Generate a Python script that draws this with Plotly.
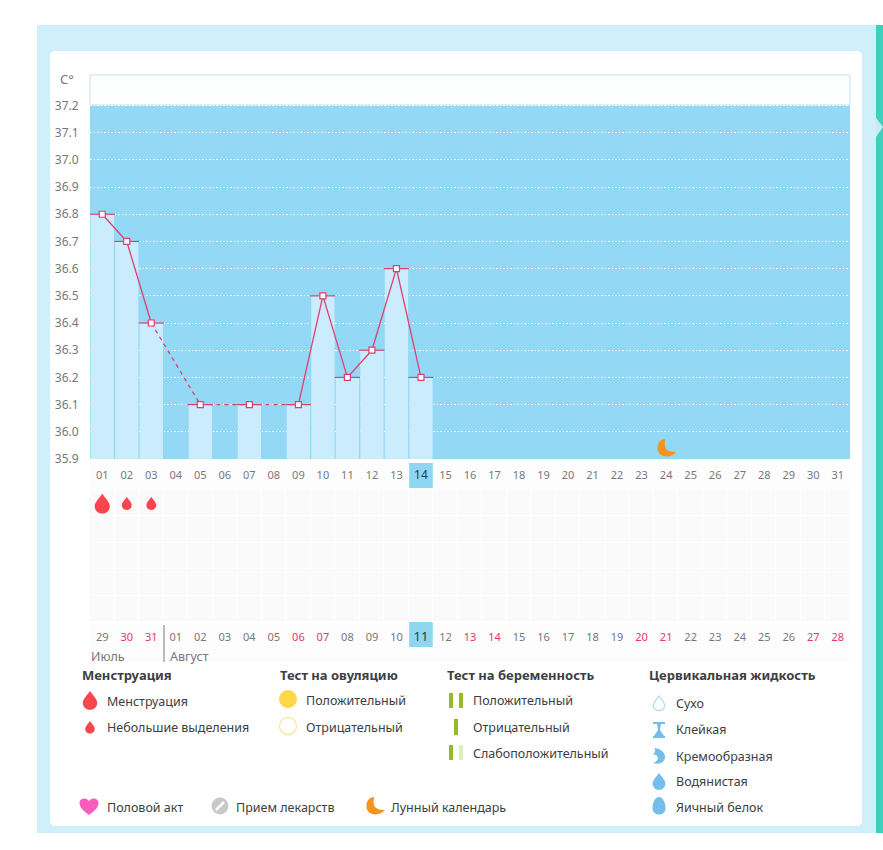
import plotly.graph_objects as go

WIDTH = 883
HEIGHT = 850
FONT = "Noto Sans"

# chart data
DAYS = list(range(1, 32))
TOP_LABELS = [f"{d:02d}" for d in DAYS]
BOTTOM_DATES = [29, 30, 31] + list(range(1, 29))
WEEKEND_POS = [2, 3, 9, 10, 16, 17, 23, 24, 30, 31]
TODAY = 14

TEMP_DAYS = [1, 2, 3, 5, 7, 9, 10, 11, 12, 13, 14]
TEMPS = [36.8, 36.7, 36.4, 36.1, 36.1, 36.1, 36.5, 36.2, 36.3, 36.6, 36.2]
Y_TICKS = [35.9, 36.0, 36.1, 36.2, 36.3, 36.4, 36.5, 36.6, 36.7, 36.8, 36.9, 37.0, 37.1, 37.2]

FLOW_DAYS = [1, 2, 3]
FLOW_SIZES = [1.0, 0.65, 0.65]
MOON_DAY = 24
MOON_TEMP = 35.94
ROWS = ["a", "b", "c", "d", "e"]
FLOW_ROW = "e"

PINK = "#de3f72"
GREY_TEXT = "#75797c"
DARK_TEXT = "#3c4043"
PANEL = "#cfeffa"
BAND = "#93d8f5"
BAR = "#cbecfd"
DROP_RED = "#f9464e"
GREEN = "#95ba2d"
DROP_BLUE = "#74bdec"
MOON_ORANGE = "#f3941d"

DROP = "M0,{a} C{b},{c} {d},{e} {d},{f} C{d},{g} -{d},{g} -{d},{f} C-{d},{e} -{b},{c} 0,{a} Z"
MOON = "M-1,9 C-9,9 -11,-3 -5,-7 C0,-10 7,-8 10,-4 C5,-4 0,-3 -1,1 C-2,4 -1,7 -1,9 Z"
HEART = "M0,-9 C-4,-6 -9.5,-2 -9.5,3 C-9.5,8 -3,9 0,5 C3,9 9.5,8 9.5,3 C9.5,-2 4,-6 0,-9 Z"
HOURGLASS = "M-6,8 L6,8 L6,6 L2,6 L1,0 L5,-6 L6,-6 L6,-8 L-6,-8 L-6,-6 L-5,-6 L-1,0 L-2,6 L-6,6 Z"
CREAMY = "M-5,8 C1,8 7,3 6,-2 C5,-7 -1,-9 -6,-7 C-2,-6 0,-3 -2,0 C-3,2 -5,1 -6,1 C-4,3 -3,6 -5,8 Z"
EGG = "M0,9 C4,9 6.5,3 6.5,-2 C6.5,-6 4,-8.5 0,-8.5 C-4,-8.5 -6.5,-6 -6.5,-2 C-6.5,3 -4,9 0,9 Z"


def drop_path(s):
    # s is the half height of the drop in pixels
    return DROP.format(a=round(s, 2), b=round(0.3 * s, 2), c=round(0.55 * s, 2), d=round(0.8 * s, 2),
                       e=round(0.1 * s, 2), f=round(-0.3 * s, 2), g=round(-1.35 * s, 2))


def px(x):
    return x / WIDTH


def py(y):
    return 1 - y / HEIGHT


def paper_rect(x0, y0, x1, y1, fill, line=None, width=0):
    return dict(type="rect", xref="paper", yref="paper", x0=px(x0), x1=px(x1), y0=py(y0), y1=py(y1),
                fillcolor=fill, line=dict(color=line, width=width) if line else dict(width=0), layer="below")


def rounded_rect(x0, y0, x1, y1, r, fill):
    p = (f"M{px(x0 + r)},{py(y0)} L{px(x1 - r)},{py(y0)} Q{px(x1)},{py(y0)} {px(x1)},{py(y0 + r)} "
         f"L{px(x1)},{py(y1 - r)} Q{px(x1)},{py(y1)} {px(x1 - r)},{py(y1)} "
         f"L{px(x0 + r)},{py(y1)} Q{px(x0)},{py(y1)} {px(x0)},{py(y1 - r)} "
         f"L{px(x0)},{py(y0 + r)} Q{px(x0)},{py(y0)} {px(x0 + r)},{py(y0)} Z")
    return dict(type="path", xref="paper", yref="paper", path=p, fillcolor=fill, line=dict(width=0), layer="below")


def icon(path, cx, cy, fill, line=None, width=0):
    return dict(type="path", xref="paper", yref="paper", xsizemode="pixel", ysizemode="pixel",
                xanchor=px(cx), yanchor=py(cy), path=path, fillcolor=fill,
                line=dict(color=line, width=width) if line else dict(width=0))


def circle(cx, cy, r, fill, line=None, width=0):
    return dict(type="circle", xref="paper", yref="paper", xsizemode="pixel", ysizemode="pixel",
                xanchor=px(cx), yanchor=py(cy), x0=-r, x1=r, y0=-r, y1=r, fillcolor=fill,
                line=dict(color=line, width=width) if line else dict(width=0))


def label(x, y, text, size=12.5, color=DARK_TEXT):
    return dict(x=px(x), y=py(y), xref="paper", yref="paper", text=text, showarrow=False, xanchor="left",
                yanchor="middle", borderpad=0, font=dict(family=FONT, size=size, color=color))


fig = go.Figure()

# calendar cells under the chart
fig.add_trace(go.Heatmap(x=DAYS, y=ROWS, z=[[1] * len(DAYS) for _ in ROWS], xaxis="x2", yaxis="y2",
                         colorscale=[[0, "#fafafb"], [1, "#fafafb"]], showscale=False, xgap=1, ygap=1,
                         hoverinfo="skip"))

fig.add_trace(go.Bar(x=TEMP_DAYS, y=[round(t - Y_TICKS[0], 1) for t in TEMPS], base=Y_TICKS[0], width=0.95,
                     marker=dict(color=BAR, line=dict(width=0))))

# neighbouring days get a solid line, skipped days a dashed one
for i in range(len(TEMP_DAYS) - 1):
    gap = TEMP_DAYS[i + 1] - TEMP_DAYS[i]
    fig.add_trace(go.Scatter(x=TEMP_DAYS[i:i + 2], y=TEMPS[i:i + 2], mode="lines",
                             line=dict(color=PINK, width=1.3, dash="solid" if gap == 1 else "4px,4px")))

fig.add_trace(go.Scatter(x=TEMP_DAYS, y=TEMPS, mode="markers",
                         marker=dict(symbol="line-ew", size=18, line=dict(color=PINK, width=1.2))))
fig.add_trace(go.Scatter(x=TEMP_DAYS, y=TEMPS, mode="markers",
                         marker=dict(symbol="square", size=6, color="white", line=dict(color=PINK, width=1.2))))

top_text = [f"<span style='color:#33383c;font-size:12px'>{t}</span>" if d == TODAY else t
            for d, t in zip(DAYS, TOP_LABELS)]
bottom_text = []
for d, date in zip(DAYS, BOTTOM_DATES):
    if d == TODAY:
        bottom_text.append(f"<span style='color:#33383c;font-size:13px'>{date:02d}</span>")
    elif d in WEEKEND_POS:
        bottom_text.append(f"<span style='color:#e8366f'>{date:02d}</span>")
    else:
        bottom_text.append(f"{date:02d}")

shapes = [
    paper_rect(37, 25, 876, 833, PANEL),
    paper_rect(876, 25, 883, 833, "#3fcfbd"),
    dict(type="path", xref="paper", yref="paper", layer="below", fillcolor="#cfe9f2", line=dict(width=0),
         path=f"M{px(876)},{py(118)} L{px(883)},{py(127)} L{px(876)},{py(137)} Z"),
    rounded_rect(50, 51, 862, 826, 5, "white"),
    paper_rect(90, 463, 850, 489, "#fdfdfe"),
    paper_rect(90, 623, 850, 662, "#fdfdfe"),
    paper_rect(90, 75, 850, 105, "#fdfefe", "#bfe3ef", 1),
    dict(type="rect", xref="x", yref="y", x0=0.5, x1=31.5, y0=Y_TICKS[0], y1=Y_TICKS[-1], fillcolor=BAND,
         line=dict(width=0), layer="below"),
    dict(type="rect", xref="x", yref="paper", x0=TODAY - 0.48, x1=TODAY + 0.48, y0=py(488), y1=py(463),
         fillcolor="#8fd6f2", line=dict(width=0), layer="below"),
    dict(type="rect", xref="x", yref="paper", x0=TODAY - 0.48, x1=TODAY + 0.48, y0=py(647), y1=py(622),
         fillcolor="#8fd6f2", line=dict(width=0), layer="below"),
    dict(type="line", xref="paper", yref="paper", x0=px(164), x1=px(164), y0=py(625), y1=py(662),
         line=dict(color="#777b7e", width=1)),
    # moon mark on the chart
    dict(type="path", xref="x", yref="y", xsizemode="pixel", ysizemode="pixel", xanchor=MOON_DAY, yanchor=MOON_TEMP,
         path=MOON, fillcolor=MOON_ORANGE, line=dict(width=0)),
    # legend icons
    icon(drop_path(9), 90, 700, DROP_RED),
    icon(drop_path(6), 90, 727, DROP_RED),
    circle(288, 699, 9, "#ffd648"),
    circle(288, 726, 8.5, "white", "#fbe6a2", 1.3),
    paper_rect(449, 693, 453, 708, GREEN),
    paper_rect(459, 693, 463, 708, GREEN),
    paper_rect(454, 719, 458, 735, GREEN),
    paper_rect(449, 745, 453, 760, GREEN),
    paper_rect(459, 745, 463, 760, "#e2ebc2"),
    icon(drop_path(7), 659, 703, "white", "#b5daf2", 1.3),
    icon(HOURGLASS, 659, 730, DROP_BLUE),
    icon(CREAMY, 659, 756, DROP_BLUE),
    icon(drop_path(8), 659, 781, DROP_BLUE),
    icon(EGG, 659, 806, DROP_BLUE),
    icon(HEART, 89, 806, "#fb5bbc"),
    circle(220, 806, 8.5, "#c9c9c9"),
    dict(type="line", xref="paper", yref="paper", x0=px(216), x1=px(224), y0=py(810), y1=py(802),
         line=dict(color="white", width=2.5)),
    icon(MOON, 375, 806, MOON_ORANGE),
]
# flow marks in the calendar
for d, s in zip(FLOW_DAYS, FLOW_SIZES):
    shapes.append(dict(type="path", xref="x2", yref="y2", xsizemode="pixel", ysizemode="pixel", xanchor=d,
                       yanchor=FLOW_ROW, path=drop_path(9.5 * s), fillcolor=DROP_RED, line=dict(width=0)))

annotations = [
    label(59, 79, "C°", 13, GREY_TEXT),
    label(90, 656, "Июль", 12.5, GREY_TEXT),
    label(169, 656, "Август", 12.5, GREY_TEXT),
    label(81, 675, "<b>Менструация</b>", 13),
    label(106, 701, "Менструация"),
    label(106, 727, "Небольшие выделения"),
    label(279, 675, "<b>Тест на овуляцию</b>", 13),
    label(305, 700, "Положительный"),
    label(305, 727, "Отрицательный"),
    label(446, 675, "<b>Тест на беременность</b>", 13),
    label(472, 700, "Положительный"),
    label(472, 727, "Отрицательный"),
    label(472, 753, "Слабоположительный"),
    label(648, 675, "<b>Цервикальная жидкость</b>", 13),
    label(675, 703, "Сухо"),
    label(675, 729, "Клейкая"),
    label(675, 756, "Кремообразная"),
    label(675, 781, "Водянистая"),
    label(675, 807, "Яичный белок"),
    label(106, 807, "Половой акт"),
    label(235, 807, "Прием лекарств"),
    label(390, 807, "Лунный календарь"),
]

fig.update_layout(
    width=WIDTH,
    height=HEIGHT,
    margin=dict(l=0, r=0, t=0, b=0, autoexpand=False),
    paper_bgcolor="white",
    plot_bgcolor="rgba(0,0,0,0)",
    showlegend=False,
    barmode="overlay",
    font=dict(family=FONT, color=GREY_TEXT),
    shapes=shapes,
    annotations=annotations,
    xaxis=dict(domain=[px(90), px(850)], range=[0.5, 31.5], anchor="y", tickvals=DAYS, ticktext=top_text,
               tickangle=0, showgrid=False, zeroline=False, showline=False, ticks="outside", ticklen=6,
               tickcolor="rgba(0,0,0,0)", tickfont=dict(size=11, color=GREY_TEXT, family=FONT)),
    yaxis=dict(domain=[py(459), py(75)], range=[Y_TICKS[0], 37.312], anchor="x", tickvals=Y_TICKS,
               tickformat=".1f", showgrid=True, gridcolor="white", griddash="1.5px,2px", gridwidth=1, zeroline=False,
               showline=False, ticks="outside", ticklen=8, tickcolor="rgba(0,0,0,0)",
               tickfont=dict(size=12, color=GREY_TEXT, family=FONT)),
    xaxis2=dict(domain=[px(90), px(850)], range=[0.5, 31.5], anchor="y2", tickvals=DAYS, ticktext=bottom_text,
                tickangle=0, showgrid=False, zeroline=False, showline=False, ticks="outside", ticklen=5,
                tickcolor="rgba(0,0,0,0)", tickfont=dict(size=11, color=GREY_TEXT, family=FONT)),
    yaxis2=dict(domain=[py(622), py(490)], anchor="x2", categoryorder="array", categoryarray=ROWS,
                showticklabels=False, showgrid=False, zeroline=False, showline=False, ticks=""),
)

fig.write_html("out.html", config={"displayModeBar": False},
               post_script="document.body.style.margin='0';document.documentElement.style.overflow='hidden';")
